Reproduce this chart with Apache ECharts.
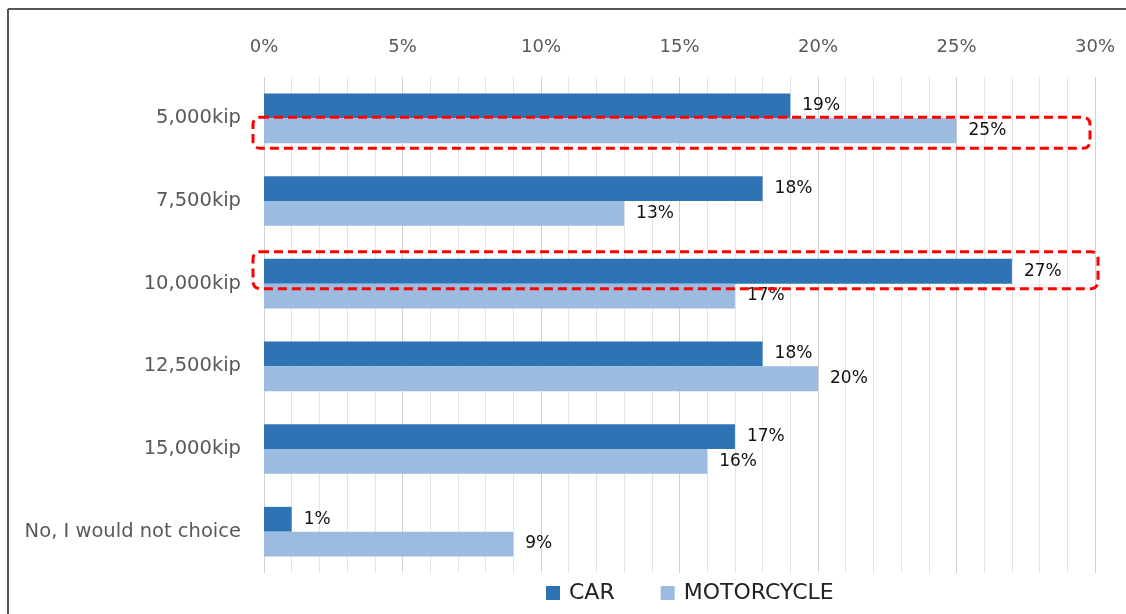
<!DOCTYPE html>
<html>
<head>
<meta charset="utf-8">
<script src="https://cdn.jsdelivr.net/npm/echarts@6/dist/echarts.min.js"></script>
<style>
  html, body { margin: 0; padding: 0; background: #fff; }
  #main { width: 1126px; height: 614px; }
</style>
</head>
<body>
<div id="main"></div>
<script>
var categories = ['5,000kip', '7,500kip', '10,000kip', '12,500kip', '15,000kip', 'No, I would not choice'];
var carValues = [19, 18, 27, 18, 17, 1];
var motoValues = [25, 13, 17, 20, 16, 9];
var seriesNames = ['CAR', 'MOTORCYCLE'];

var font = 'DejaVu Sans';

var option = {
  animation: false,
  textStyle: { fontFamily: font },
  grid: {
    left: 264,
    right: 31,
    top: 77,
    bottom: 41
  },
  legend: {
    left: 541,
    top: 577,
    icon: 'rect',
    itemWidth: 14,
    itemHeight: 14,
    itemGap: 46,
    textStyle: { fontSize: 22, color: '#222', fontFamily: font, padding: [0, 0, 0, 4] },
    data: seriesNames
  },
  xAxis: {
    type: 'value',
    position: 'top',
    min: 0,
    max: 30,
    interval: 5,
    axisLine: { show: false },
    axisTick: { show: false },
    axisLabel: {
      fontSize: 18,
      color: '#595959',
      margin: 21,
      formatter: '{value}%'
    },
    splitLine: { show: true, lineStyle: { color: '#d0d0d0', width: 1 } },
    minorTick: { show: false, splitNumber: 5 },
    minorSplitLine: { show: true, lineStyle: { color: '#e3e3e3', width: 1 } }
  },
  yAxis: {
    type: 'category',
    inverse: true,
    data: categories,
    axisLine: { show: false },
    axisTick: { show: false },
    axisLabel: { fontSize: 19.5, color: '#595959', margin: 23 }
  },
  series: [{
    name: seriesNames[0],
    type: 'bar',
    data: carValues,
    barGap: '0%',
    barCategoryGap: '40%',
    itemStyle: { color: '#2E74B5' },
    label: {
      show: true,
      position: 'right',
      distance: 12,
      fontSize: 17,
      color: '#111',
      formatter: '{c}%'
    }
  }, {
    name: seriesNames[1],
    type: 'bar',
    data: motoValues,
    barGap: '0%',
    barCategoryGap: '40%',
    itemStyle: { color: '#9BBBE0' },
    label: {
      show: true,
      position: 'right',
      distance: 12,
      fontSize: 17,
      color: '#111',
      formatter: '{c}%'
    }
  }]
};

var chart = echarts.init(document.getElementById('main'));
chart.setOption(option);

// highlight boxes and outer frame, placed from the axes
function boxAround(catIndex, x0, x1, dyTop, dyBottom) {
  var left = chart.convertToPixel({ xAxisIndex: 0 }, 0) + x0;
  var right = chart.convertToPixel({ xAxisIndex: 0 }, 30) + x1;
  var cy = chart.convertToPixel({ yAxisIndex: 0 }, catIndex);
  return {
    type: 'rect',
    shape: { x: left, y: cy + dyTop, width: right - left, height: dyBottom - dyTop, r: 7 },
    style: { fill: null, stroke: '#ff0000', lineWidth: 3, lineDash: [9, 5] },
    z: 100
  };
}

chart.setOption({
  graphic: [
    boxAround(0, -11, -5, -1, 30),
    boxAround(2, -11, 3, -32, 5),
    { type: 'line', shape: { x1: 8, y1: 9, x2: 8, y2: 614 }, style: { stroke: '#555555', lineWidth: 2 } },
    { type: 'line', shape: { x1: 8, y1: 9, x2: 1126, y2: 9 }, style: { stroke: '#555555', lineWidth: 2 } }
  ]
});
</script>
</body>
</html>
